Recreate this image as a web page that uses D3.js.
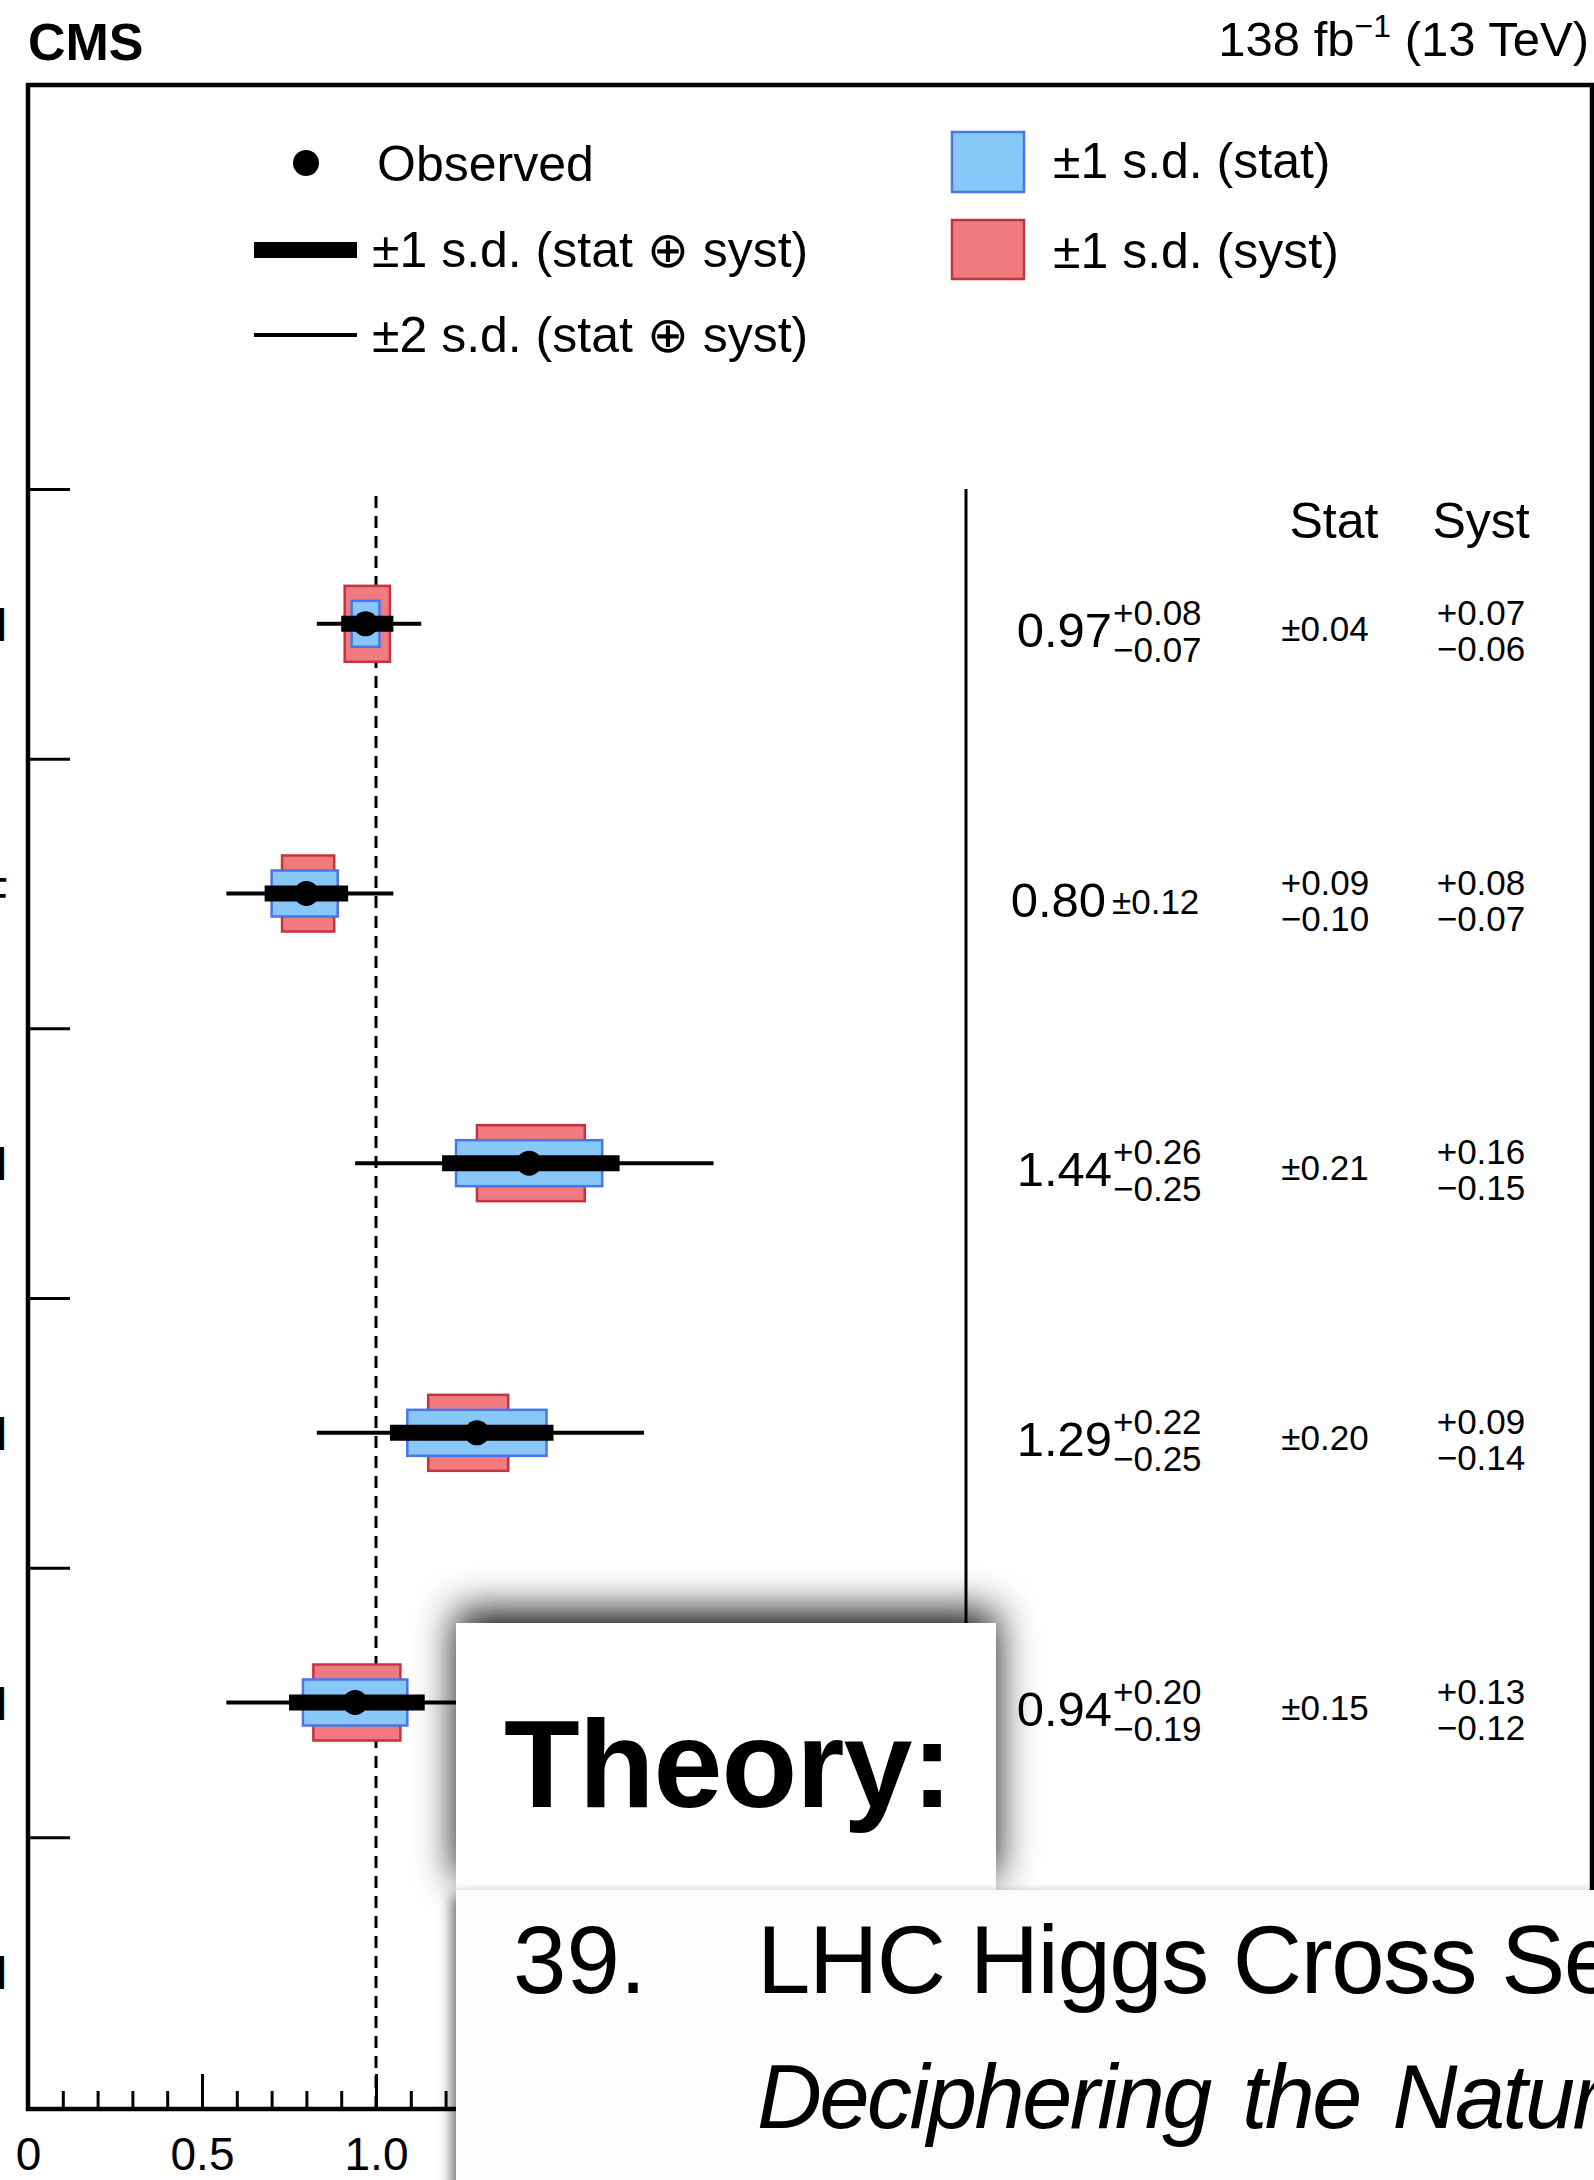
<!DOCTYPE html>
<html>
<head>
<meta charset="utf-8">
<script src="https://cdn.jsdelivr.net/npm/d3@7"></script>
<style>
html, body { margin: 0; padding: 0; background: #fff; }
svg { display: block; }
text { font-family: "Liberation Sans", Arial, Helvetica, sans-serif; fill: #000; }
</style>
</head>
<body>
<svg id="chart"></svg>
<script>
// ---- data ----
var categories = ["ggH", "VBF", "WH", "ZH", "ttH", "tH"];   // last row is hidden by the overlay
var mu     = [0.97, 0.80, 1.44, 1.29, 0.94];
var totHi  = [0.08, 0.12, 0.26, 0.22, 0.20];
var totLo  = [0.07, 0.12, 0.25, 0.25, 0.19];
var tot2Hi = [0.16, 0.25, 0.53, 0.48, 0.41];
var tot2Lo = [0.14, 0.23, 0.50, 0.46, 0.37];
var statHi = [0.04, 0.09, 0.21, 0.20, 0.15];
var statLo = [0.04, 0.10, 0.21, 0.20, 0.15];
var systHi = [0.07, 0.08, 0.16, 0.09, 0.13];
var systLo = [0.06, 0.07, 0.15, 0.14, 0.12];
var xMajorTicks = [0, 0.5, 1.0];

var W = 1594, H = 2180;
var frameL = 28, frameT = 85, frameR = 1592, frameB = 2109;
var rowTop = 489;

var svg = d3.select("#chart").attr("width", W).attr("height", H);

var x = d3.scaleLinear().domain([0, (frameR - frameL) / 348]).range([frameL, frameR]);
var yIdx = d3.scaleLinear().domain([0, categories.length]).range([rowTop, frameB - 2]);
var y = d3.scaleBand().domain(categories).range([rowTop, frameB - 2]);

var rows = mu.map(function(m, i) {
  return { cat: categories[i], mu: m, hi: totHi[i], lo: totLo[i], hi2: tot2Hi[i], lo2: tot2Lo[i],
           sHi: statHi[i], sLo: statLo[i], yHi: systHi[i], yLo: systLo[i] };
});
function yc(d) { return y(d.cat) + y.bandwidth() / 2; }
function f2(v) { return v.toFixed(2); }

// ---- header texts ----
svg.append("text").attr("x", 28).attr("y", 60)
  .style("font-size", "52px").style("font-weight", "bold").text("CMS");

var lumi = svg.append("text").attr("x", 1589).attr("y", 56)
  .attr("text-anchor", "end").style("font-size", "49px");
lumi.append("tspan").text("138 fb");
lumi.append("tspan").attr("dy", -19).style("font-size", "32px").text("\u22121");
lumi.append("tspan").attr("dy", 19).text(" (13 TeV)");

// ---- dashed SM line ----
svg.append("line")
  .attr("x1", x(1)).attr("x2", x(1)).attr("y1", 496).attr("y2", frameB)
  .attr("stroke", "#000").attr("stroke-width", 3).attr("stroke-dasharray", "12,8");

// separator between plot and table
svg.append("line")
  .attr("x1", 966).attr("x2", 966).attr("y1", rowTop).attr("y2", frameB)
  .attr("stroke", "#000").attr("stroke-width", 3);

// ---- row labels (cut off at the page edge) ----
svg.selectAll(".rowlab").data(categories).enter().append("text")
  .attr("class", "rowlab")
  .attr("x", 8).attr("y", function(c) { return y(c) + y.bandwidth() / 2 + 17; })
  .attr("text-anchor", "end").style("font-size", "48px")
  .text(function(c) { return c; });

// ---- error bars ----
var g = svg.append("g");
g.selectAll(".syst").data(rows).enter().append("rect")
  .attr("x", function(d) { return x(d.mu - d.yLo); })
  .attr("width", function(d) { return x(d.mu + d.yHi) - x(d.mu - d.yLo); })
  .attr("y", function(d) { return yc(d) - 38; }).attr("height", 76)
  .attr("fill", "#f07a80").attr("stroke", "#c4343c").attr("stroke-width", 2.5);
g.selectAll(".stat").data(rows).enter().append("rect")
  .attr("x", function(d) { return x(d.mu - d.sLo); })
  .attr("width", function(d) { return x(d.mu + d.sHi) - x(d.mu - d.sLo); })
  .attr("y", function(d) { return yc(d) - 23; }).attr("height", 46)
  .attr("fill", "#87c8f8").attr("stroke", "#4a74e8").attr("stroke-width", 2.5);
g.selectAll(".two").data(rows).enter().append("line")
  .attr("x1", function(d) { return x(d.mu - d.lo2); })
  .attr("x2", function(d) { return x(d.mu + d.hi2); })
  .attr("y1", yc).attr("y2", yc)
  .attr("stroke", "#000").attr("stroke-width", 4);
g.selectAll(".one").data(rows).enter().append("line")
  .attr("x1", function(d) { return x(d.mu - d.lo); })
  .attr("x2", function(d) { return x(d.mu + d.hi); })
  .attr("y1", yc).attr("y2", yc)
  .attr("stroke", "#000").attr("stroke-width", 16);
g.selectAll(".obs").data(rows).enter().append("circle")
  .attr("cx", function(d) { return x(d.mu); }).attr("cy", yc).attr("r", 12.5)
  .attr("fill", "#000");

// ---- table ----
svg.append("text").attr("x", 1334).attr("y", 538).attr("text-anchor", "middle")
  .style("font-size", "50px").text("Stat");
svg.append("text").attr("x", 1481).attr("y", 538).attr("text-anchor", "middle")
  .style("font-size", "50px").text("Syst");

function pm(sel, cx, hi, lo, yv) {
  if (hi === lo) {
    sel.append("text").attr("x", cx).attr("y", yv + 17).attr("text-anchor", "middle")
      .style("font-size", "35px").text("\u00b1" + f2(hi));
  } else {
    sel.append("text").attr("x", cx).attr("y", yv + 1).attr("text-anchor", "middle")
      .style("font-size", "35px").text("+" + f2(hi));
    sel.append("text").attr("x", cx).attr("y", yv + 37).attr("text-anchor", "middle")
      .style("font-size", "35px").text("\u2212" + f2(lo));
  }
}
var tbl = svg.append("g");
rows.forEach(function(d) {
  var yv = yc(d);
  var sym = d.hi === d.lo;
  tbl.append("text").attr("x", sym ? 1106 : 1112).attr("y", yv + 23).attr("text-anchor", "end")
    .style("font-size", "49px").text(f2(d.mu));
  if (sym) {
    tbl.append("text").attr("x", 1112).attr("y", yv + 20)
      .style("font-size", "35px").text("\u00b1" + f2(d.hi));
  } else {
    tbl.append("text").attr("x", 1113).attr("y", yv + 1).style("font-size", "35px").text("+" + f2(d.hi));
    tbl.append("text").attr("x", 1113).attr("y", yv + 38).style("font-size", "35px").text("\u2212" + f2(d.lo));
  }
  pm(tbl, 1325, d.sHi, d.sLo, yv);
  pm(tbl, 1481, d.yHi, d.yLo, yv);
});

// ---- axes (only the part left of the overlay is visible) ----
var minorTicks = d3.range(0, 13).map(function(i) { return i / 10; })
  .filter(function(v) { return Math.round(v * 10) % 5 !== 0; });
var gxMinor = svg.append("g").attr("transform", "translate(0," + frameB + ")")
  .call(d3.axisBottom(x).tickValues(minorTicks).tickSize(-18).tickFormat(""));
gxMinor.select(".domain").remove();
var gxMajor = svg.append("g").attr("transform", "translate(0," + frameB + ")")
  .call(d3.axisBottom(x).tickValues(xMajorTicks).tickSize(-35)
    .tickFormat(function(v) { return v === 0 ? "0" : v.toFixed(1); }));
gxMajor.select(".domain").remove();
gxMajor.selectAll("text").attr("y", 61).attr("dy", null)
  .style("font-size", "46px").style("font-family", "'Liberation Sans', Arial, sans-serif").attr("fill", "#000");
svg.selectAll(".tick line").attr("stroke", "#000").attr("stroke-width", 3);

var gy = svg.append("g").attr("transform", "translate(" + frameL + ",0)")
  .call(d3.axisRight(yIdx).tickValues(d3.range(0, categories.length)).tickSize(42).tickFormat(""));
gy.select(".domain").remove();
gy.selectAll(".tick line").attr("stroke", "#000").attr("stroke-width", 3);

// frame
svg.append("rect").attr("x", frameL).attr("y", frameT)
  .attr("width", frameR - frameL).attr("height", frameB - frameT)
  .attr("fill", "none").attr("stroke", "#000").attr("stroke-width", 4.5);

// ---- legend ----
var lg = svg.append("g").style("font-size", "50px");
lg.append("circle").attr("cx", 306).attr("cy", 163).attr("r", 13).attr("fill", "#000");
lg.append("text").attr("x", 377).attr("y", 181).text("Observed");
lg.append("line").attr("x1", 254).attr("x2", 357).attr("y1", 250).attr("y2", 250)
  .attr("stroke", "#000").attr("stroke-width", 16);
lg.append("text").attr("x", 372).attr("y", 267).text("\u00b11 s.d. (stat \u2295 syst)");
lg.append("line").attr("x1", 254).attr("x2", 357).attr("y1", 335).attr("y2", 335)
  .attr("stroke", "#000").attr("stroke-width", 4);
lg.append("text").attr("x", 372).attr("y", 352).text("\u00b12 s.d. (stat \u2295 syst)");
lg.append("rect").attr("x", 952).attr("y", 132).attr("width", 72).attr("height", 60)
  .attr("fill", "#87c8f8").attr("stroke", "#4a74e8").attr("stroke-width", 2.5);
lg.append("text").attr("x", 1053).attr("y", 178).text("\u00b11 s.d. (stat)");
lg.append("rect").attr("x", 952).attr("y", 220).attr("width", 72).attr("height", 59)
  .attr("fill", "#f07a80").attr("stroke", "#c4343c").attr("stroke-width", 2.5);
lg.append("text").attr("x", 1053).attr("y", 268).text("\u00b11 s.d. (syst)");

// ---- overlay panels (slide cards on top of the figure) ----
var defs = svg.append("defs");
defs.append("filter").attr("id", "sh1")
  .attr("x", "-30%").attr("y", "-60%").attr("width", "160%").attr("height", "220%")
  .append("feDropShadow").attr("dx", 0).attr("dy", -12).attr("stdDeviation", 20)
  .attr("flood-color", "#000").attr("flood-opacity", 0.95);
defs.append("filter").attr("id", "sh2")
  .attr("x", "-10%").attr("y", "-10%").attr("width", "120%").attr("height", "120%")
  .append("feDropShadow").attr("dx", -4).attr("dy", 6).attr("stdDeviation", 7)
  .attr("flood-color", "#000").attr("flood-opacity", 0.6);

svg.append("rect").attr("x", 456).attr("y", 1623).attr("width", 540).attr("height", 267)
  .attr("fill", "#fff").attr("filter", "url(#sh1)");
svg.append("text").attr("x", 504).attr("y", 1807)
  .style("font-size", "124px").style("font-weight", "bold").style("letter-spacing", "-1px")
  .text("Theory:");

svg.append("rect").attr("x", 456).attr("y", 1890).attr("width", 1300).attr("height", 500)
  .attr("fill", "#fcfcfc").attr("filter", "url(#sh2)");
svg.append("text").attr("x", 513).attr("y", 1993).style("font-size", "96px").text("39.");
svg.append("text").attr("x", 757).attr("y", 1993).style("font-size", "96px")
  .style("letter-spacing", "-1.5px")
  .text("LHC Higgs Cross Section Working Group");
svg.append("text").attr("x", 757).attr("y", 2128).style("font-size", "90px").style("font-style", "italic")
  .style("letter-spacing", "-2.5px").style("word-spacing", "10px")
  .text("Deciphering the Nature of the Higgs Sector");
</script>
</body>
</html>
